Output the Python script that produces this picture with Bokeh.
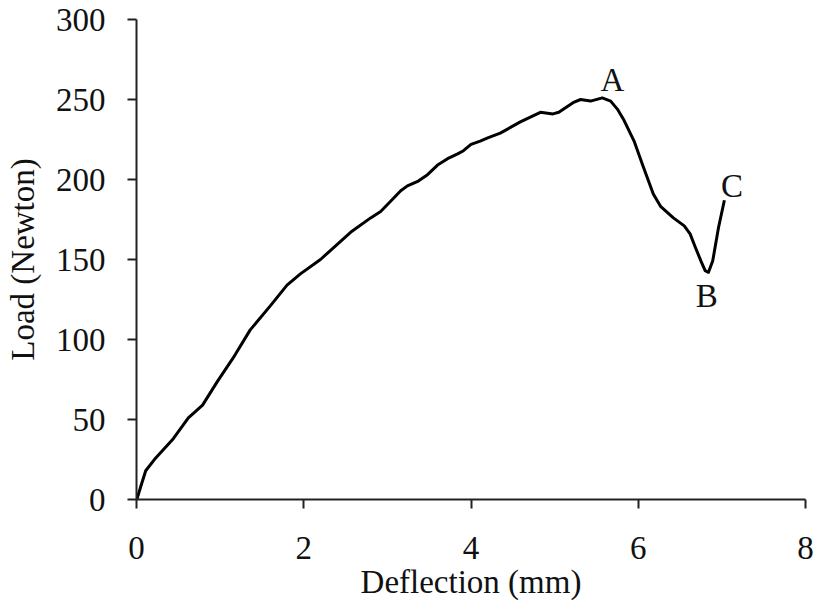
from bokeh.plotting import figure
from bokeh.models import Range1d, FixedTicker, Label
from bokeh.embed import file_html
from bokeh.resources import INLINE

deflection = [0.0, 0.01, 0.05, 0.11, 0.23, 0.44, 0.62, 0.79, 0.97, 1.15, 1.36, 1.6, 1.8, 1.96, 2.2,
              2.56, 2.8, 2.92, 3.16, 3.24, 3.37, 3.48, 3.6, 3.72, 3.84, 3.91, 4.0, 4.11, 4.2,
              4.35, 4.59, 4.83, 4.98, 5.05, 5.22, 5.31, 5.43, 5.57, 5.67, 5.75, 5.83, 5.95, 6.06,
              6.18, 6.27, 6.42, 6.55, 6.62, 6.68, 6.75, 6.8, 6.84, 6.89, 6.96, 7.03]
load = [0, 1, 8, 18, 26, 38, 51, 59, 74, 88, 106, 121, 134, 141, 150,
        167, 176, 180, 193, 196, 199, 203, 209, 213, 216, 218, 222, 224, 226,
        229, 236, 242, 241, 242, 248, 250, 249, 251, 249, 244, 237, 224, 208,
        191, 183, 176, 171, 166, 158, 149, 143, 142, 149, 170, 187]

x_ticks = [0, 2, 4, 6, 8]
y_ticks = [0, 50, 100, 150, 200, 250, 300]

point_names = ["A", "B", "C"]
point_x = [5.69, 6.82, 7.12]
point_y = [262, 127, 196]

FONT = "Liberation Serif"
FS = "33px"

p = figure(width=819, height=614, output_backend="svg", toolbar_location=None,
           x_range=Range1d(0, 8), y_range=Range1d(0, 300),
           min_border_left=136, min_border_right=14, min_border_top=19, min_border_bottom=115)
p.outline_line_color = None
p.grid.visible = False
p.background_fill_color = "white"
p.border_fill_color = "white"

p.line(deflection, load, line_color="black", line_width=3, line_join="round")

for name, xx, yy in zip(point_names, point_x, point_y):
    p.add_layout(Label(x=xx, y=yy, text=name, text_font=FONT, text_font_size=FS,
                       text_align="center", text_baseline="middle", text_color="#111111"))

for ax in (p.xaxis[0], p.yaxis[0]):
    ax.axis_line_color = "#222222"
    ax.axis_line_width = 2
    ax.major_tick_line_color = "#222222"
    ax.major_tick_line_width = 2
    ax.minor_tick_line_color = None
    ax.major_tick_in = 0
    ax.major_tick_out = 9
    ax.major_label_text_font = FONT
    ax.major_label_text_font_size = FS
    ax.major_label_text_color = "#111111"
    ax.axis_label_text_font = FONT
    ax.axis_label_text_font_size = FS
    ax.axis_label_text_font_style = "normal"
    ax.axis_label_text_color = "#111111"

p.xaxis.ticker = FixedTicker(ticks=x_ticks)
p.yaxis.ticker = FixedTicker(ticks=y_ticks)
p.xaxis.axis_label = "Deflection (mm)"
p.yaxis.axis_label = "Load (Newton)"
p.xaxis.major_label_standoff = 28
p.yaxis.major_label_standoff = 22
p.xaxis.axis_label_standoff = 2
p.yaxis.axis_label_standoff = 12

open("out.html", "w").write(file_html(p, INLINE))
